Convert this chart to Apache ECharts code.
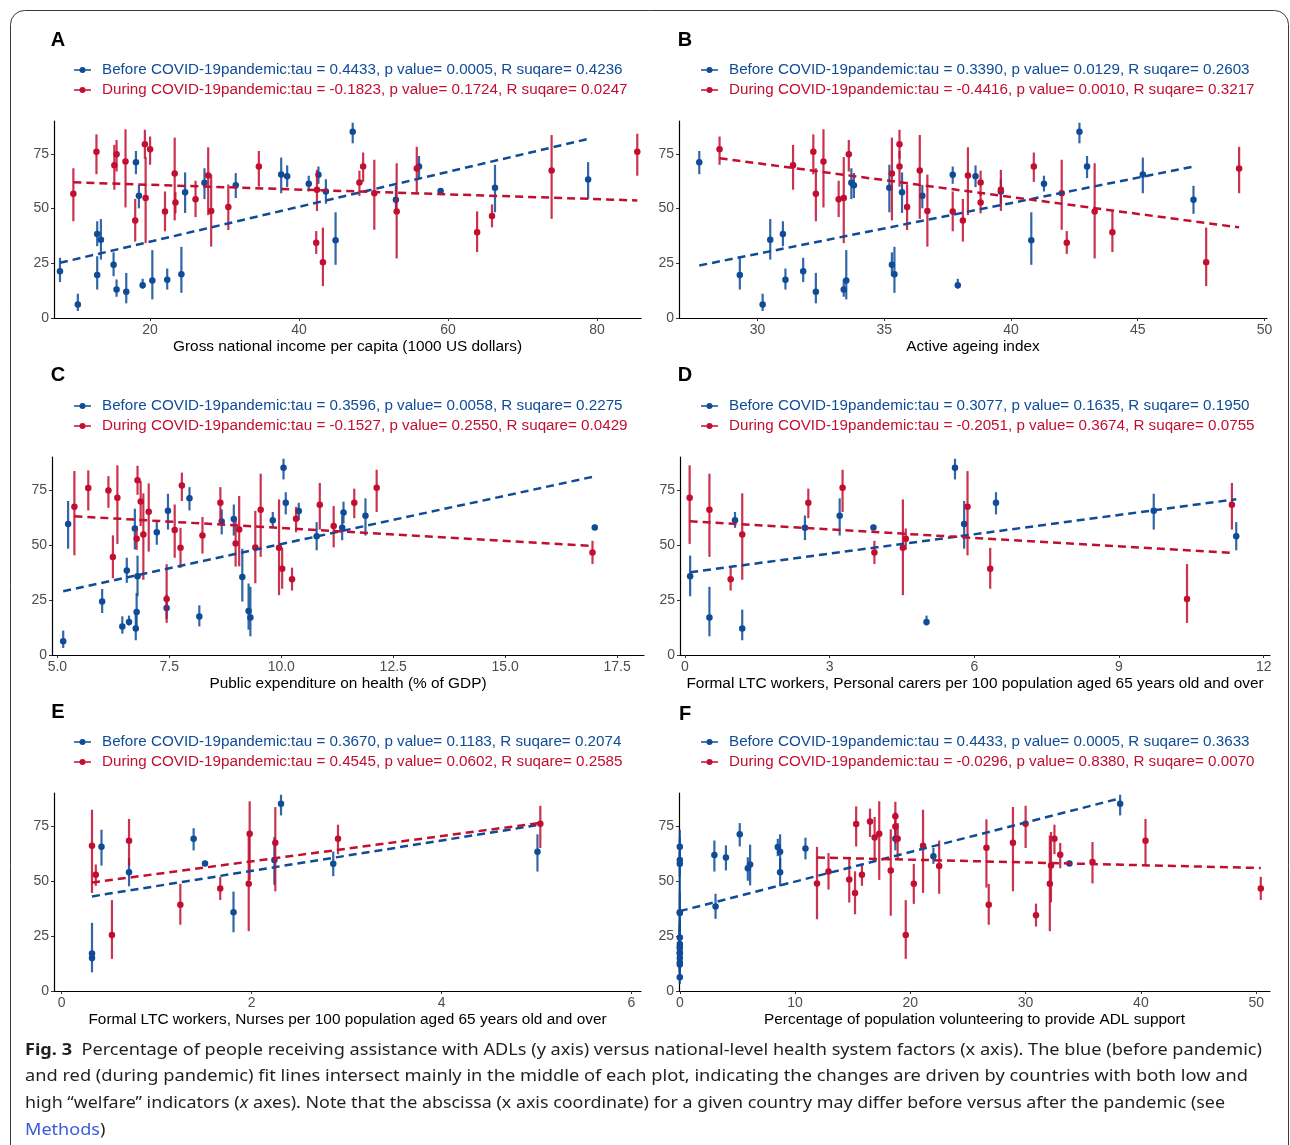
<!DOCTYPE html>
<html>
<head>
<meta charset="utf-8">
<script src="https://cdn.jsdelivr.net/npm/echarts@6/dist/echarts.min.js"></script>
<style>
html, body { margin: 0; padding: 0; background: #fff; }
#main { width: 1290px; height: 1145px; }
</style>
</head>
<body>
<div id="main"></div>
<script>
var BLUE = '#0f4b96';
var RED = '#c20e31';

// outcome per country (same in every panel), before pandemic
var blueY  = [21.4, 6.2, 38.4, 19.6, 35.8, 24.3, 13.0, 12.0, 71.2, 55.8, 15.0, 17.1, 17.5, 20.0, 57.5, 61.8, 60.7, 65.6, 64.8, 61.3, 65.4, 57.8, 35.5, 85.1, 54.0, 69.2, 58.0, 59.5, 63.3];
var blueLo = [16.4, 3.2, 32.8, 13.0, 26.7, 19.1, 9.7, 6.7, 65.7, 50.1, 13.4, 8.5, 13.0, 11.5, 48.0, 54.3, 54.8, 57.0, 59.8, 57.8, 61.3, 52.2, 24.3, 79.8, 47.6, 63.9, 56.8, 48.3, 54.3];
var blueHi = [27.5, 11.1, 44.2, 28.2, 45.2, 30.0, 17.6, 20.6, 76.3, 60.8, 17.9, 31.0, 22.6, 32.5, 66.5, 68.4, 66.2, 73.3, 69.7, 65.0, 69.2, 63.4, 48.3, 89.2, 60.4, 74.0, 59.2, 70.0, 71.2];

// during pandemic
var redY  = [56.8, 75.9, 69.8, 74.8, 71.5, 44.6, 79.4, 54.8, 77.1, 48.7, 66.0, 52.8, 54.3, 65.1, 48.9, 50.7, 69.2, 58.6, 34.4, 25.5, 61.9, 69.2, 57.0, 48.7, 68.3, 39.2, 46.6, 67.4, 76.0];
var redLo = [44.2, 65.7, 58.6, 66.9, 50.5, 34.9, 72.8, 34.2, 70.0, 39.6, 44.6, 47.8, 46.1, 47.0, 32.6, 40.2, 60.0, 48.9, 29.3, 14.6, 55.8, 62.2, 40.3, 27.2, 57.0, 30.1, 41.4, 45.3, 65.0];
var redHi = [68.4, 83.9, 79.1, 81.3, 86.2, 54.4, 86.0, 73.5, 82.9, 57.8, 82.4, 57.5, 62.7, 78.0, 65.5, 61.0, 76.3, 67.7, 39.7, 41.3, 67.3, 75.6, 72.3, 70.7, 78.2, 48.7, 51.9, 83.6, 84.2];

// x values per panel (null = no data for that country)
var blueXA = [7.9, 10.3, 12.9, 12.9, 13.4, 15.1, 15.5, 16.8, 18.1, 18.5, 19.0, 20.3, 22.3, 24.2, 24.7, 27.3, 31.5, 37.6, 38.4, 41.3, 42.6, 43.6, 44.9, 47.2, 53.0, 56.1, 59.0, 66.3, 78.8];
var redXA  = [9.7, 12.8, 15.2, 15.5, 16.7, 18.0, 19.3, 19.4, 20.0, 22.0, 23.3, 23.4, 26.1, 27.8, 28.2, 30.5, 34.6, 42.4, 42.3, 43.2, 48.1, 48.6, 50.1, 53.1, 55.8, 63.9, 65.9, 73.9, 85.4];

var blueXB = [31.8, 30.2, 31.0, 29.3, 30.5, 35.3, 33.4, 32.3, 27.7, 36.5, 37.9, 33.5, 31.1, 35.4, 35.7, 33.7, 33.8, 45.2, 38.6, 41.3, 37.7, 39.6, 40.8, 42.7, 47.2, 43.0, null, 35.2, null];
var redXB  = [32.3, 32.2, 31.4, 33.6, 32.6, 38.1, 35.6, 33.4, 28.5, 37.7, 35.3, 38.8, 33.2, 38.3, 36.7, 35.9, 35.6, 39.6, 42.2, 47.7, 38.8, 40.9, 42.0, 43.3, 49.0, 44.0, null, 36.4, null];

var blueXC = [7.44, 5.13, 6.55, 6.77, 6.79, 6.0, 6.45, 6.75, 7.95, 7.22, 6.6, 9.31, 8.17, 9.27, 6.73, 8.94, 8.67, 7.47, 11.39, 9.81, 10.39, 11.36, 9.13, 10.05, 10.79, 10.1, 17.0, 5.24, 11.88];
var redXC  = [7.62, 5.69, 6.86, 6.14, 6.34, 6.24, 6.79, 6.92, 7.78, 7.75, 9.54, 6.77, 8.24, 7.04, 9.42, 8.98, 8.64, 11.17, 10.24, 7.44, 10.33, 11.63, 9.06, 9.95, 10.86, 10.02, 16.95, 5.38, 12.13];

var blueXD = [null, null, null, null, 0.11, null, null, 1.19, null, null, 5.01, 0.51, null, null, null, null, null, 9.72, null, 1.04, null, 2.49, null, 5.6, 11.43, 6.45, 3.91, 5.79, 3.21];
var redXD  = [null, null, null, null, 0.1, null, null, 1.19, null, null, 0.51, 4.58, null, null, null, null, null, null, 0.95, 10.41, null, 2.56, null, 4.52, 11.34, 6.33, 3.93, 5.86, 3.27];

var blueXE = [null, null, null, null, 1.81, null, null, null, null, null, 0.32, 0.32, null, null, null, null, null, 0.42, null, null, null, 2.86, null, 2.31, 0.71, 1.39, 1.51, 2.24, 5.01];
var redXE  = [null, null, null, null, 1.98, null, null, null, null, null, 0.32, 0.36, null, null, null, null, null, null, null, 0.53, null, 2.91, null, 1.97, 0.71, 1.25, 1.67, 2.25, 5.04];

var blueXF = [0, 0, 3.1, 0, 0, 0, 0, 0, 5.2, 5.9, 0, 0, 0, 0, 6.1, 3.0, 4.0, 0, 10.9, 22.0, 8.5, 0, 0, 38.2, 8.7, 18.7, 33.8, 0, 8.7];
var redXF  = [22.5, 15.3, 16.9, 18.7, 17.3, 15.2, 18.7, 18.3, 16.5, 20.3, 21.1, 15.8, 12.9, 26.6, 11.9, 14.7, 18.9, 35.8, 30.9, 19.6, 33.0, 32.5, 32.2, 32.1, 40.4, 26.8, 50.4, 28.9, 30.0];

// fitted lines: [x start, y start], [x end, y end]
var blueFitA = [[7.9, 25.2], [78.8, 81.8]];
var redFitA  = [[9.7, 62.0], [85.4, 53.7]];
var blueFitB = [[27.7, 24.0], [47.2, 69.2]];
var redFitB  = [[28.5, 73.0], [49.0, 41.4]];
var blueFitC = [[5.13, 29.0], [17.0, 81.2]];
var redFitC  = [[5.38, 63.1], [16.95, 49.6]];
var blueFitD = [[0.11, 37.6], [11.43, 70.8]];
var redFitD  = [[0.1, 60.8], [11.34, 46.4]];
var blueFitE = [[0.32, 43.0], [5.01, 75.4]];
var redFitE  = [[0.32, 49.3], [5.04, 76.4]];
var blueFitF = [[0, 36.3], [38.2, 87.6]];
var redFitF  = [[11.9, 60.7], [50.4, 55.9]];

var xTicksA = [20, 40, 60, 80];
var xTicksB = [30, 35, 40, 45, 50];
var xTicksC = [5, 7.5, 10, 12.5, 15, 17.5];
var xTicksD = [0, 3, 6, 9, 12];
var xTicksE = [0, 2, 4, 6];
var xTicksF = [0, 10, 20, 30, 40, 50];
var yTicks = [0, 25, 50, 75];

var xTitles = [
    'Gross national income per capita (1000 US dollars)',
    'Active ageing index',
    'Public expenditure on health (% of GDP)',
    'Formal LTC workers, Personal carers per 100 population aged 65 years old and over',
    'Formal LTC workers, Nurses per 100 population aged 65 years old and over',
    'Percentage of population volunteering to provide ADL support'
];
var statsBefore = [
    'tau = 0.4433, p value= 0.0005, R suqare= 0.4236',
    'tau = 0.3390, p value= 0.0129, R suqare= 0.2603',
    'tau = 0.3596, p value= 0.0058, R suqare= 0.2275',
    'tau = 0.3077, p value= 0.1635, R suqare= 0.1950',
    'tau = 0.3670, p value= 0.1183, R suqare= 0.2074',
    'tau = 0.4433, p value= 0.0005, R suqare= 0.3633'
];
var statsDuring = [
    'tau = -0.1823, p value= 0.1724, R suqare= 0.0247',
    'tau = -0.4416, p value= 0.0010, R suqare= 0.3217',
    'tau = -0.1527, p value= 0.2550, R suqare= 0.0429',
    'tau = -0.2051, p value= 0.3674, R suqare= 0.0755',
    'tau = 0.4545, p value= 0.0602, R suqare= 0.2585',
    'tau = -0.0296, p value= 0.8380, R suqare= 0.0070'
];

// caption, as [style, text] pieces per line
var captionLines = [
    [['b', 'Fig. 3'], ['', '  Percentage of people receiving assistance with ADLs (y axis) versus national-level health system factors (x axis). The blue (before pandemic)']],
    [['', 'and red (during pandemic) fit lines intersect mainly in the middle of each plot, indicating the changes are driven by countries with both low and']],
    [['', 'high \u201cwelfare\u201d indicators ('], ['i', 'x'], ['', ' axes). Note that the abscissa (x axis coordinate) for a given country may differ before versus after the pandemic (see']],
    [['m', 'Methods'], ['', ')']]
];

var FONT = '"Liberation Sans", Arial, sans-serif';
var CAP_FONT = '"Noto Sans", "Open Sans", sans-serif';

var panels = [
    { key: 'A', grid: { left: 54, top: 121, width: 587, height: 197 }, min: 7.1, max: 85.9, ticks: xTicksA, dec: 0,
      bx: blueXA, rx: redXA, bf: blueFitA, rf: redFitA, lx: 74, ly: 70, tx: 58, ty: 40 },
    { key: 'B', grid: { left: 679, top: 121, width: 588, height: 197 }, min: 26.9, max: 50.1, ticks: xTicksB, dec: 0,
      bx: blueXB, rx: redXB, bf: blueFitB, rf: redFitB, lx: 701, ly: 70, tx: 685, ty: 40 },
    { key: 'C', grid: { left: 52, top: 457, width: 592, height: 198 }, min: 4.88, max: 18.1, ticks: xTicksC, dec: 1,
      bx: blueXC, rx: redXC, bf: blueFitC, rf: redFitC, lx: 74, ly: 406, tx: 58, ty: 375 },
    { key: 'D', grid: { left: 680, top: 457, width: 590, height: 198 }, min: -0.1, max: 12.13, ticks: xTicksD, dec: 0,
      bx: blueXD, rx: redXD, bf: blueFitD, rf: redFitD, lx: 701, ly: 406, tx: 685, ty: 375 },
    { key: 'E', grid: { left: 54, top: 793, width: 587, height: 198 }, min: -0.08, max: 6.1, ticks: xTicksE, dec: 0,
      bx: blueXE, rx: redXE, bf: blueFitE, rf: redFitE, lx: 74, ly: 742, tx: 58, ty: 712 },
    { key: 'F', grid: { left: 679, top: 793, width: 591, height: 198 }, min: -0.07, max: 51.2, ticks: xTicksF, dec: 0,
      bx: blueXF, rx: redXF, bf: blueFitF, rf: redFitF, lx: 701, ly: 742, tx: 685, ty: 714 }
];

function points(xs, ys) {
    var out = [];
    for (var i = 0; i < xs.length; i++) {
        if (xs[i] !== null) out.push([xs[i], ys[i]]);
    }
    return out;
}
function ranges(xs, lo, hi) {
    var out = [];
    for (var i = 0; i < xs.length; i++) {
        if (xs[i] !== null) out.push([xs[i], lo[i], hi[i]]);
    }
    return out;
}
function renderBar(params, api) {
    var a = api.coord([api.value(0), api.value(1)]);
    var b = api.coord([api.value(0), api.value(2)]);
    return {
        type: 'line',
        shape: { x1: a[0], y1: a[1], x2: b[0], y2: b[1] },
        style: { stroke: api.visual('color'), lineWidth: 2.2, opacity: 0.85 }
    };
}

var grids = [], xAxes = [], yAxes = [], series = [], graphics = [];

graphics.push({
    type: 'rect', silent: true,
    shape: { x: 10.5, y: 10.5, width: 1278, height: 1200, r: 14 },
    style: { fill: null, stroke: '#3a3a3a', lineWidth: 1 }
});

panels.forEach(function(p, i) {
    grids.push(p.grid);
    xAxes.push({
        gridIndex: i, type: 'value', min: p.min, max: p.max,
        name: xTitles[i], nameLocation: 'middle', nameGap: 21,
        nameTextStyle: { color: '#000', fontSize: 15.4, fontFamily: FONT },
        axisLine: { show: true, onZero: false, lineStyle: { color: '#000', width: 1.2 } },
        axisTick: { show: true, length: 3, customValues: p.ticks, lineStyle: { color: '#333' } },
        axisLabel: {
            customValues: p.ticks, color: '#4d4d4d', fontSize: 14, fontFamily: FONT, margin: 5,
            formatter: (function(d) { return function(v) { return Number(v).toFixed(d); }; })(p.dec)
        },
        splitLine: { show: false }
    });
    yAxes.push({
        gridIndex: i, type: 'value', min: 0, max: 90,
        axisLine: { show: true, onZero: false, lineStyle: { color: '#000', width: 1.2 } },
        axisTick: { show: true, length: 3, customValues: yTicks, lineStyle: { color: '#333' } },
        axisLabel: { customValues: yTicks, color: '#4d4d4d', fontSize: 14, fontFamily: FONT, margin: 5 },
        splitLine: { show: false }
    });

    series.push({
        type: 'custom', xAxisIndex: i, yAxisIndex: i, renderItem: renderBar,
        encode: { x: 0, y: [1, 2] }, itemStyle: { color: BLUE }, z: 2,
        data: ranges(p.bx, blueLo, blueHi)
    });
    series.push({
        type: 'scatter', xAxisIndex: i, yAxisIndex: i, symbolSize: 6.5,
        itemStyle: { color: BLUE, opacity: 1 }, z: 3,
        data: points(p.bx, blueY)
    });
    series.push({
        type: 'custom', xAxisIndex: i, yAxisIndex: i, renderItem: renderBar,
        encode: { x: 0, y: [1, 2] }, itemStyle: { color: RED }, z: 4,
        data: ranges(p.rx, redLo, redHi)
    });
    series.push({
        type: 'scatter', xAxisIndex: i, yAxisIndex: i, symbolSize: 6.5,
        itemStyle: { color: RED, opacity: 1 }, z: 5,
        data: points(p.rx, redY)
    });
    series.push({
        type: 'line', xAxisIndex: i, yAxisIndex: i, symbol: 'none', silent: true, z: 6,
        lineStyle: { color: BLUE, width: 2.5, type: [8, 5] }, data: p.bf
    });
    series.push({
        type: 'line', xAxisIndex: i, yAxisIndex: i, symbol: 'none', silent: true, z: 6,
        lineStyle: { color: RED, width: 2.5, type: [8, 5] }, data: p.rf
    });

    // panel letter
    graphics.push({
        type: 'text', x: p.tx, y: p.ty, silent: true,
        style: { text: p.key, fill: '#000', fontSize: 20, fontWeight: 'bold', fontFamily: FONT, align: 'center', verticalAlign: 'middle' }
    });
    // legend rows
    [[BLUE, 'Before COVID-19pandemic:' + statsBefore[i], p.ly], [RED, 'During COVID-19pandemic:' + statsDuring[i], p.ly + 20]].forEach(function(r) {
        graphics.push({ type: 'line', silent: true, shape: { x1: p.lx, y1: r[2], x2: p.lx + 17, y2: r[2] }, style: { stroke: r[0], lineWidth: 1.5 } });
        graphics.push({ type: 'circle', silent: true, shape: { cx: p.lx + 8.5, cy: r[2], r: 3 }, style: { fill: r[0] } });
        graphics.push({
            type: 'text', x: p.lx + 28, y: r[2], silent: true,
            style: { text: r[1], fill: r[0], fontSize: 15.2, fontFamily: FONT, align: 'left', verticalAlign: 'middle' }
        });
    });
});

// caption: squeeze each line to the width it has in the figure
var CAP_SIZE = 16.5;
var capY = [1050, 1076, 1103, 1130];
var capRight = [1262, 1248, 1225, 0];
var ctx = document.createElement('canvas').getContext('2d');
function pieceFont(kind) {
    var f = CAP_SIZE + 'px ' + CAP_FONT;
    if (kind === 'b') return 'bold ' + f;
    if (kind === 'i') return 'italic ' + f;
    return f;
}
var scales = [];
captionLines.forEach(function(line, k) {
    var w = 0;
    line.forEach(function(pc) { ctx.font = pieceFont(pc[0]); w += ctx.measureText(pc[1]).width; });
    scales.push(capRight[k] ? (capRight[k] - 25) / w : null);
});
var meanScale = (scales[0] + scales[1] + scales[2]) / 3;

captionLines.forEach(function(line, k) {
    var txt = line.map(function(pc) { return pc[0] ? '{' + pc[0] + '|' + pc[1] + '}' : pc[1]; }).join('');
    graphics.push({
        type: 'text', x: 25, y: capY[k], silent: true, scaleX: scales[k] || meanScale,
        style: {
            text: txt, fill: '#231f20', fontSize: CAP_SIZE, fontFamily: CAP_FONT, verticalAlign: 'middle',
            rich: {
                b: { fontWeight: 'bold', fontSize: CAP_SIZE, fontFamily: CAP_FONT, fill: '#231f20' },
                i: { fontStyle: 'italic', fontSize: CAP_SIZE, fontFamily: CAP_FONT, fill: '#231f20' },
                m: { fill: '#3b5bdb', fontSize: CAP_SIZE, fontFamily: CAP_FONT }
            }
        }
    });
});

var chart = echarts.init(document.getElementById('main'), null, { renderer: 'canvas' });
chart.setOption({
    animation: false,
    backgroundColor: '#fff',
    grid: grids,
    xAxis: xAxes,
    yAxis: yAxes,
    series: series,
    graphic: graphics
});
</script>
</body>
</html>
